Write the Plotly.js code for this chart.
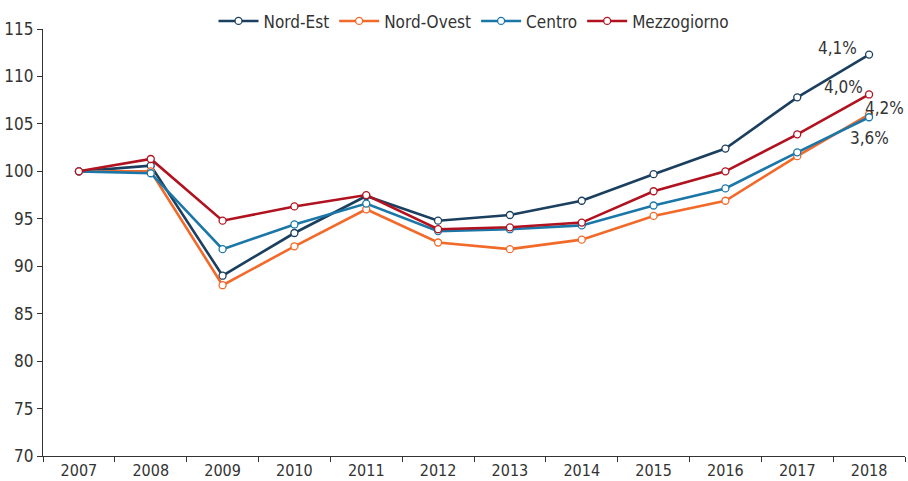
<!DOCTYPE html>
<html>
<head>
<meta charset="utf-8">
<script src="https://cdn.plot.ly/plotly-3.0.1.min.js"></script>
<style>html,body{margin:0;padding:0;background:#fff;}#chart{width:908px;height:481px;}</style>
</head>
<body>
<div id="chart"></div>
<script>
const years = ['2007','2008','2009','2010','2011','2012','2013','2014','2015','2016','2017','2018'];
const nordEst     = [100, 100.6, 89.0, 93.5, 97.4, 94.8, 95.4, 96.9, 99.7, 102.4, 107.8, 112.3];
const nordOvest   = [100, 100.0, 88.0, 92.1, 96.0, 92.5, 91.8, 92.8, 95.3, 96.9, 101.6, 106.0];
const centro      = [100, 99.8, 91.8, 94.4, 96.6, 93.7, 93.9, 94.3, 96.4, 98.2, 102.0, 105.7];
const mezzogiorno = [100, 101.3, 94.8, 96.3, 97.5, 93.9, 94.1, 94.6, 97.9, 100.0, 103.9, 108.1];
const seriesNames = ['Nord-Est', 'Nord-Ovest', 'Centro', 'Mezzogiorno'];
const endLabels = ['4,1%', '4,2%', '3,6%', '4,0%'];

const FONT = 'DejaVu Sans Condensed, Liberation Sans Narrow, sans-serif';
const colors = ['#1b3f5e', '#f26a2a', '#1a77a8', '#b0121f'];
const data = [nordEst, nordOvest, centro, mezzogiorno];

const traces = data.map((vals, i) => ({
  type: 'scatter',
  mode: 'lines+markers',
  name: seriesNames[i],
  x: years,
  y: vals,
  line: {color: colors[i], width: 2.6},
  marker: {symbol: 'circle', size: 7, color: '#ffffff', line: {color: colors[i], width: 1.3}},
  cliponaxis: false
}));

// [xanchor, xshift, yshift]
const placement = [['right', -10, 7], ['right', 37, 6], ['center', 0, -21], ['right', -4, 7]];
const lastIdx = years.length - 1;
const annotations = data.map((vals, i) => ({
  x: lastIdx,
  y: vals[lastIdx],
  xref: 'x', yref: 'y',
  text: endLabels[i],
  showarrow: false,
  xanchor: placement[i][0], yanchor: 'middle',
  xshift: placement[i][1],
  yshift: placement[i][2],
  font: {family: FONT, size: 17, color: '#333333'}
}));

const layout = {
  width: 908, height: 481,
  margin: {l: 43, r: 3, t: 25, b: 25},
  paper_bgcolor: '#ffffff',
  plot_bgcolor: '#ffffff',
  font: {family: FONT, size: 16, color: '#333333'},
  showlegend: true,
  legend: {
    orientation: 'h',
    x: 0.5, xanchor: 'center',
    y: 1.06, yanchor: 'top',
    font: {family: FONT, size: 17, color: '#333333'},
    itemwidth: 40,
    bgcolor: 'rgba(0,0,0,0)'
  },
  xaxis: {
    type: 'category',
    tickson: 'boundaries',
    ticks: 'outside', ticklen: 5, tickcolor: '#333333',
    showline: true, linecolor: '#333333', linewidth: 1.2,
    showgrid: false, zeroline: false,
    tickfont: {family: FONT, size: 16, color: '#333333'},
    range: [-0.5, 11.5]
  },
  yaxis: {
    range: [70, 115],
    tickmode: 'linear', tick0: 70, dtick: 5,
    ticks: 'outside', ticklen: 5, tickcolor: '#333333',
    showline: true, linecolor: '#333333', linewidth: 1.2,
    showgrid: false, zeroline: false,
    tickfont: {family: FONT, size: 17, color: '#333333'}
  },
  annotations: annotations
};

Plotly.newPlot('chart', traces, layout, {displayModeBar: false, staticPlot: true});
</script>
</body>
</html>
